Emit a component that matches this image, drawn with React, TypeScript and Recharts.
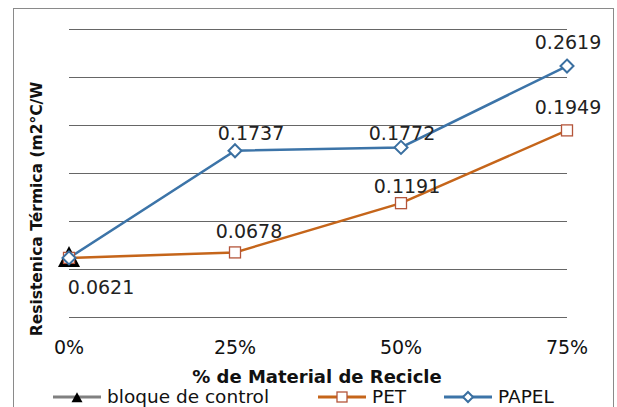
import { LineChart, Line, XAxis, YAxis, CartesianGrid, LabelList, Legend } from "recharts"

const CATEGORIES = ["0%", "25%", "50%", "75%"]
const CONTROL = [0.0621, null, null, null]
const PET = [0.0621, 0.0678, 0.1191, 0.1949]
const PAPEL = [0.0621, 0.1737, 0.1772, 0.2619]
const Y_TICKS = [0, 0.05, 0.1, 0.15, 0.2, 0.25, 0.3]

// label nudges (dx, dy) per point, null = no label
const CONTROL_LABEL_SHIFT = [[32, 29], null, null, null]
const PET_LABEL_SHIFT = [null, [14, -21], [6, -17], [1, -23]]
const PAPEL_LABEL_SHIFT = [null, [16, -18], [1, -14], [1, -24]]

const GRAY = "#808080"
const GRID = "#666666"
const ORANGE = "#c5651a"
const ORANGE_MARK = "#b4553a"
const BLUE = "#3c74a8"
const BLUE_MARK = "#3a6fa0"
const FONT = "'DejaVu Sans', sans-serif"

const data = CATEGORIES.map((name, i) => ({
  name,
  control: CONTROL[i],
  pet: PET[i],
  papel: PAPEL[i],
}))

const makeLabel = (shifts: (number[] | null)[]) => (props: any) => {
  const { x, y, value, index } = props
  const s = shifts[index]
  if (!s || value == null) return null
  return (
    <text
      x={x + s[0]}
      y={y + s[1]}
      textAnchor="middle"
      dominantBaseline="central"
      fontFamily={FONT}
      fontSize={19}
      fill="#222"
    >
      {Number(value).toFixed(4)}
    </text>
  )
}

const Triangle = ({ cx, cy, w = 22, h = 21 }: any) => {
  if (cx == null || cy == null) return null
  return (
    <path
      d={`M${cx},${cy - h * 0.57} L${cx + w / 2},${cy + h * 0.43} L${cx - w / 2},${cy + h * 0.43} Z`}
      fill="#000"
    />
  )
}

const Square = ({ cx, cy, side = 11 }: any) => {
  if (cx == null || cy == null) return null
  return (
    <rect x={cx - side / 2} y={cy - side / 2} width={side} height={side} fill="#fff" stroke={ORANGE_MARK} strokeWidth={1.3} />
  )
}

const Diamond = ({ cx, cy, half = 6.5 }: any) => {
  if (cx == null || cy == null) return null
  return (
    <path
      d={`M${cx},${cy - half} L${cx + half},${cy} L${cx},${cy + half} L${cx - half},${cy} Z`}
      fill="#fff"
      stroke={BLUE_MARK}
      strokeWidth={2}
    />
  )
}

const XTick = ({ x, y, payload }: any) => (
  <text x={x} y={y + 21} textAnchor="middle" dominantBaseline="central" fontFamily={FONT} fontSize={19} fill="#111">
    {payload.value}
  </text>
)

// y ticks are not printed, but still needed for the grid
const NoTick = () => <g />

const LEGEND_ITEMS = [
  { label: "bloque de control", color: GRAY, left: 53, mark: (cx: number) => <Triangle cx={cx} cy={11} w={11} h={10} /> },
  { label: "PET", color: ORANGE, left: 318, mark: (cx: number) => <Square cx={cx} cy={10} side={10} /> },
  { label: "PAPEL", color: BLUE, left: 444, mark: (cx: number) => <Diamond cx={cx} cy={10} half={5} /> },
]

const LegendContent = () => (
  <div style={{ position: "relative", width: 617, height: 22 }}>
    {LEGEND_ITEMS.map((it) => (
      <div key={it.label} style={{ position: "absolute", left: it.left, top: 0, display: "flex", alignItems: "center" }}>
        <svg width={48} height={20}>
          <line x1={0} x2={48} y1={10} y2={10} stroke={it.color} strokeWidth={3} />
          {it.mark(24)}
        </svg>
        <span style={{ marginLeft: 6, fontFamily: FONT, fontSize: 18.5, color: "#111", lineHeight: "20px" }}>{it.label}</span>
      </div>
    ))}
  </div>
)

export default function App() {
  return (
    <div style={{ position: "absolute", left: 0, top: 0, width: 617, height: 407, background: "#fff", overflow: "hidden" }}>
      <div
        style={{
          position: "absolute",
          left: 13,
          top: 8,
          width: 601,
          height: 410,
          border: "1px solid #8a8a8a",
          boxSizing: "border-box",
        }}
      />
      <div style={{ position: "absolute", left: 0, top: 0 }}>
        <LineChart width={617} height={407} data={data} margin={{ top: 29.5, right: 50, left: 0, bottom: 59.5 }}>
          <CartesianGrid vertical={false} stroke={GRID} strokeWidth={1} />
          <XAxis
            dataKey="name"
            height={30}
            axisLine={false}
            tickLine={false}
            tick={<XTick />}
            interval={0}
            label={{
              content: () => (
                <text
                  x={317}
                  y={376}
                  textAnchor="middle"
                  dominantBaseline="central"
                  fontFamily={FONT}
                  fontWeight="bold"
                  fontSize={18}
                  fill="#111"
                >
                  % de Material de Recicle
                </text>
              ),
            }}
          />
          <YAxis
            width={69}
            domain={[0, 0.3]}
            ticks={Y_TICKS}
            tick={<NoTick />}
            interval={0}
            axisLine={false}
            tickLine={false}
            label={{
              content: () => (
                <text
                  x={37}
                  y={209}
                  transform="rotate(-90, 37, 209)"
                  textAnchor="middle"
                  dominantBaseline="central"
                  fontFamily={FONT}
                  fontWeight="bold"
                  fontSize={15.5}
                  fill="#111"
                >
                  Resistenica Térmica (m2°C/W
                </text>
              ),
            }}
          />
          <Legend
            layout="horizontal"
            verticalAlign="middle"
            align="center"
            content={<LegendContent />}
            wrapperStyle={{ top: 387, left: 0, width: 617, height: 22 }}
          />
          <Line
            dataKey="control"
            stroke={GRAY}
            strokeWidth={2.5}
            dot={<Triangle />}
            activeDot={false}
            isAnimationActive={false}
          >
            <LabelList dataKey="control" content={makeLabel(CONTROL_LABEL_SHIFT)} />
          </Line>
          <Line
            dataKey="pet"
            stroke={ORANGE}
            strokeWidth={2.5}
            dot={<Square />}
            activeDot={false}
            isAnimationActive={false}
          >
            <LabelList dataKey="pet" content={makeLabel(PET_LABEL_SHIFT)} />
          </Line>
          <Line
            dataKey="papel"
            stroke={BLUE}
            strokeWidth={2.5}
            dot={<Diamond />}
            activeDot={false}
            isAnimationActive={false}
          >
            <LabelList dataKey="papel" content={makeLabel(PAPEL_LABEL_SHIFT)} />
          </Line>
        </LineChart>
      </div>
    </div>
  )
}
